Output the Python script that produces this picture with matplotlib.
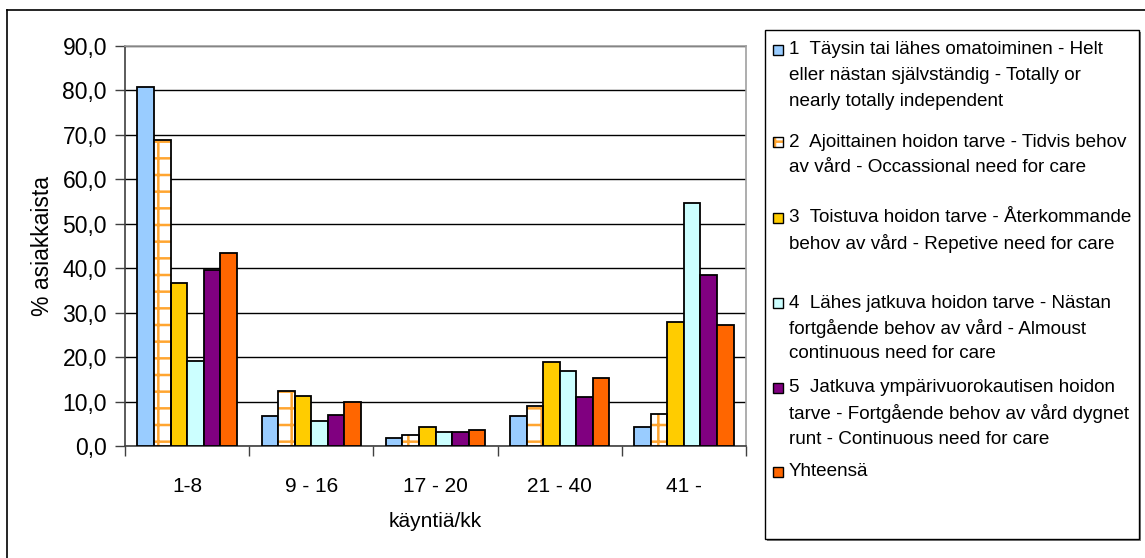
import matplotlib.pyplot as plt
import numpy as np
from matplotlib.patches import Rectangle
from matplotlib.lines import Line2D

plt.rcParams['font.family'] = ['Liberation Sans', 'DejaVu Sans']
plt.rcParams['hatch.linewidth'] = 1.8

groups = ['1-8', '9 - 16', '17 - 20', '21 - 40', '41 -']

s1 = [80.7, 6.7, 1.8, 6.8, 4.3]
s2 = [68.8, 12.4, 2.4, 9.0, 7.1]
s3 = [36.6, 11.3, 4.2, 19.0, 28.0]
s4 = [19.2, 5.6, 3.1, 16.8, 54.6]
s5 = [39.5, 7.0, 3.1, 11.1, 38.4]
s6 = [43.4, 9.9, 3.6, 15.4, 27.3]

labels = [
    "1  Täysin tai lähes omatoiminen - Helt\neller nästan självständig - Totally or\nnearly totally independent",
    "2  Ajoittainen hoidon tarve - Tidvis behov\nav vård - Occassional need for care",
    "3  Toistuva hoidon tarve - Återkommande\nbehov av vård - Repetive need for care",
    "4  Lähes jatkuva hoidon tarve - Nästan\nfortgående behov av vård - Almoust\ncontinuous need for care",
    "5  Jatkuva ympärivuorokautisen hoidon\ntarve - Fortgående behov av vård dygnet\nrunt - Continuous need for care",
    "Yhteensä",
]

series = [s1, s2, s3, s4, s5, s6]
colors = ['#99CCFF', '#FFFFFF', '#FFCC00', '#CCFFFF', '#800080', '#FF6600']
hatch_color = '#FFA530'

W, H = 1145, 558
fig = plt.figure(figsize=(W / 100, H / 100), dpi=100)
ax = fig.add_axes([125 / W, 1 - 446 / H, (746 - 125) / W, (446 - 46) / H])

x = np.arange(len(groups))
w = 1 / 7.5
for i, (vals, c) in enumerate(zip(series, colors)):
    pos = x + (i - 2.5) * w
    if i == 1:
        ax.bar(pos, vals, w, color='white', edgecolor=hatch_color, hatch='+',
               linewidth=0, zorder=3)
        ax.bar(pos, vals, w, fill=False, edgecolor='black', linewidth=1.3, zorder=4)
    else:
        ax.bar(pos, vals, w, color=c, edgecolor='black', linewidth=1.3, zorder=3)

ax.set_xlim(-0.5, len(groups) - 0.5)
ax.set_ylim(0, 90)
yt = np.arange(0, 91, 10)
ax.set_yticks(yt)
ax.set_yticklabels([f"{v:.1f}".replace('.', ',') for v in yt], fontsize=16.5)
ax.yaxis.grid(True, color='black', linewidth=1.0, zorder=0)
ax.set_axisbelow(True)

ax.set_xticks(np.arange(-0.5, len(groups), 1.0))
ax.set_xticklabels([])
ax.set_xticks(x, minor=True)
ax.set_xticklabels(groups, minor=True, fontsize=15)
ax.tick_params(axis='x', which='major', direction='out', length=7, width=1, color='#404040')
ax.tick_params(axis='x', which='minor', length=0, pad=22)
ax.tick_params(axis='y', direction='out', length=7, width=1, color='#404040', pad=6)

for side in ['left', 'bottom']:
    ax.spines[side].set_color('#404040')
    ax.spines[side].set_linewidth(1.2)
for side in ['top', 'right']:
    ax.spines[side].set_color('#A0A0A0')
    ax.spines[side].set_linewidth(1.2)

ax.set_xlabel('käyntiä/kk', fontsize=15, labelpad=12)
ax.set_ylabel('% asiakkaista', fontsize=16.5, labelpad=6)


def fx(px):
    return px / W


def fy(py):
    return 1 - py / H


# chart area border (cropped on right and bottom)
fig.add_artist(Line2D([fx(7), fx(7)], [fy(10), 0], color='black', linewidth=1.2))
fig.add_artist(Line2D([fx(7), 1], [fy(10), fy(10)], color='black', linewidth=1.2))

# legend box with shadow
fig.add_artist(Rectangle((fx(767), fy(541)), fx(1141) - fx(767), fy(32) - fy(541),
                         transform=fig.transFigure, facecolor='#808080',
                         edgecolor='none'))
fig.add_artist(Rectangle((fx(765), fy(539)), fx(1139) - fx(765), fy(30) - fy(539),
                         transform=fig.transFigure, facecolor='white',
                         edgecolor='black', linewidth=1.0))

entry_y = [50, 142, 218, 303, 388, 472]
pitch = 25.5
for lab, ey, c, i in zip(labels, entry_y, colors, range(6)):
    sq = 10
    if i == 1:
        fig.add_artist(Rectangle((fx(773), fy(ey + sq / 2)), sq / W, sq / H,
                                 transform=fig.transFigure, facecolor='white',
                                 edgecolor=hatch_color, hatch='+', linewidth=0))
        fig.add_artist(Rectangle((fx(773), fy(ey + sq / 2)), sq / W, sq / H,
                                 transform=fig.transFigure, fill=False,
                                 edgecolor='black', linewidth=1.0))
    else:
        fig.add_artist(Rectangle((fx(773), fy(ey + sq / 2)), sq / W, sq / H,
                                 transform=fig.transFigure, facecolor=c,
                                 edgecolor='black', linewidth=1.0))
    for k, line in enumerate(lab.split('\n')):
        fig.text(fx(789), fy(ey + k * pitch), line, fontsize=13.6,
                 ha='left', va='center')

fig.savefig('out.png', dpi=100)
